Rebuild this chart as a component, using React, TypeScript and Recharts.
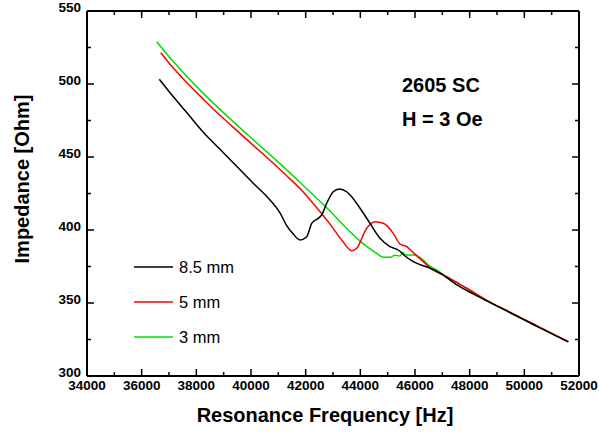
import React from 'react';
import { LineChart, Line, XAxis, YAxis } from 'recharts';

const freq85 = [36645, 37037, 37648, 38255, 38866, 39477, 40084, 40695, 41061, 41306, 41548, 41793, 42038, 42221, 42404, 42587, 42770, 43011, 43231, 43501, 43684, 43988, 44354, 44720, 45085, 45389, 45634, 45938, 46549, 46914, 47500, 48133, 48750, 49355, 49960, 50573, 51100, 51609];
const imp85 = [503.2, 494.0, 480.5, 467.0, 455.3, 443.6, 432.0, 420.6, 411.8, 403.0, 397.2, 393.2, 395.4, 404.6, 407.3, 410.3, 418.3, 426.2, 428.1, 426.2, 422.8, 414.9, 404.6, 394.3, 388.6, 386.3, 382.2, 378.3, 373.8, 370.5, 362.8, 356.2, 350.3, 344.6, 338.8, 333.0, 328.0, 323.4];

const freq5 = [36696, 37037, 37648, 38255, 38866, 39477, 40084, 40695, 41306, 41913, 42279, 42890, 43318, 43684, 43867, 44233, 44537, 44840, 45206, 45451, 45696, 45938, 46304, 46670, 47160, 47892, 48750, 49355, 49960, 50573, 51100, 51609];
const imp5 = [521.4, 513.5, 501.0, 489.6, 478.6, 468.2, 458.0, 447.8, 437.2, 426.0, 418.0, 404.0, 393.2, 385.8, 387.5, 401.2, 405.7, 404.6, 397.7, 390.4, 388.6, 384.5, 378.3, 372.6, 368.0, 360.1, 350.6, 344.9, 339.1, 333.3, 328.3, 323.6];

const freq3 = [36550, 37037, 37648, 38255, 38866, 39477, 40084, 40695, 41306, 41913, 42279, 42890, 43501, 44110, 44599, 44840, 45085, 45268, 45451, 45550, 45634, 45938, 46183, 46487, 46794, 47160, 47892, 48750, 49355, 49960, 50573, 51100, 51609];
const imp3 = [529.0, 518.0, 505.3, 493.6, 482.6, 472.0, 461.8, 451.6, 441.2, 430.5, 424.0, 413.0, 401.0, 390.5, 384.0, 381.3, 381.3, 382.7, 382.2, 384.7, 382.9, 382.9, 381.3, 376.0, 372.6, 368.0, 360.1, 350.3, 344.6, 338.8, 333.0, 328.0, 323.4];

const xTicks = [34000, 35000, 36000, 37000, 38000, 39000, 40000, 41000, 42000, 43000, 44000, 45000, 46000, 47000, 48000, 49000, 50000, 51000, 52000];
const yTicks = [300, 325, 350, 375, 400, 425, 450, 475, 500, 525, 550];

const seriesNames = ['8.5 mm', '5 mm', '3 mm'];
const seriesColors = ['#000000', '#ff0000', '#00e000'];
const annotations = ['2605 SC', 'H = 3 Oe'];
const xTitle = 'Resonance Frequency [Hz]';
const yTitle = 'Impedance [Ohm]';

const toData = (f: number[], z: number[]) => f.map((v, i) => ({ f: v, z: z[i] }));
const series = [
  { name: seriesNames[0], color: seriesColors[0], data: toData(freq85, imp85) },
  { name: seriesNames[1], color: seriesColors[1], data: toData(freq5, imp5) },
  { name: seriesNames[2], color: seriesColors[2], data: toData(freq3, imp3) },
];

const FONT = '"Liberation Sans", Arial, Helvetica, sans-serif';
const MAJOR = 7;
const MINOR = 4;

const BottomTick = (props: any) => {
  const { x, y, payload } = props;
  const major = payload.value % 2000 === 0;
  return (
    <g>
      <line x1={x} x2={x} y1={y} y2={y - (major ? MAJOR : MINOR)} stroke="#000" strokeWidth={1.5} />
      {major && (
        <text x={x} y={y + 13.5} textAnchor="middle" fontFamily={FONT} fontWeight="bold" fontSize={13.5} fill="#000">
          {payload.value}
        </text>
      )}
    </g>
  );
};

const TopTick = (props: any) => {
  const { x, y, payload } = props;
  const major = payload.value % 2000 === 0;
  return <line x1={x} x2={x} y1={y} y2={y + (major ? MAJOR : MINOR)} stroke="#000" strokeWidth={1.5} />;
};

const LeftTick = (props: any) => {
  const { x, y, payload } = props;
  const major = payload.value % 50 === 0;
  return (
    <g>
      <line x1={x} x2={x + (major ? MAJOR : MINOR)} y1={y} y2={y} stroke="#000" strokeWidth={1.5} />
      {major && (
        <text x={x - 6} y={y - 3.5} dy="0.36em" textAnchor="end" fontFamily={FONT} fontWeight="bold" fontSize={13.5} fill="#000">
          {payload.value}
        </text>
      )}
    </g>
  );
};

const RightTick = (props: any) => {
  const { x, y, payload } = props;
  const major = payload.value % 50 === 0;
  return <line x1={x} x2={x - (major ? MAJOR : MINOR)} y1={y} y2={y} stroke="#000" strokeWidth={1.5} />;
};

const axisLine = { stroke: '#000', strokeWidth: 2 };

export default function App() {
  return (
    <div style={{ position: 'absolute', left: 0, top: 0, width: 599, height: 437, background: '#fff' }}>
      <LineChart width={599} height={437} margin={{ top: 0, right: 0, bottom: 0, left: 0 }}>
        <XAxis
          xAxisId="b"
          dataKey="f"
          type="number"
          orientation="bottom"
          domain={[34000, 52000]}
          ticks={xTicks}
          interval={0}
          height={61}
          tickSize={0}
          tickMargin={0}
          tickLine={false}
          axisLine={axisLine}
          tick={<BottomTick />}
          allowDataOverflow
        />
        <XAxis
          xAxisId="t"
          dataKey="f"
          type="number"
          orientation="top"
          domain={[34000, 52000]}
          ticks={xTicks}
          interval={0}
          height={11}
          tickSize={0}
          tickMargin={0}
          tickLine={false}
          axisLine={axisLine}
          tick={<TopTick />}
          allowDataOverflow
        />
        <YAxis
          yAxisId="l"
          type="number"
          orientation="left"
          domain={[300, 550]}
          ticks={yTicks}
          interval={0}
          width={87}
          tickSize={0}
          tickMargin={0}
          tickLine={false}
          axisLine={axisLine}
          tick={<LeftTick />}
          allowDataOverflow
        />
        <YAxis
          yAxisId="r"
          type="number"
          orientation="right"
          domain={[300, 550]}
          ticks={yTicks}
          interval={0}
          width={20}
          tickSize={0}
          tickMargin={0}
          tickLine={false}
          axisLine={axisLine}
          tick={<RightTick />}
          allowDataOverflow
        />
        {[2, 1, 0].map((i) => (
          <Line
            key={series[i].name}
            xAxisId="b"
            yAxisId="l"
            data={series[i].data}
            dataKey="z"
            name={series[i].name}
            type="monotone"
            stroke={series[i].color}
            strokeWidth={1.5}
            dot={false}
            activeDot={false}
            isAnimationActive={false}
          />
        ))}
      </LineChart>
      <svg
        width={599}
        height={437}
        style={{ position: 'absolute', left: 0, top: 0, pointerEvents: 'none' }}
      >
        <text x={325} y={422} textAnchor="middle" fontFamily={FONT} fontWeight="bold" fontSize={20} fill="#000">
          {xTitle}
        </text>
        <text
          x={29}
          y={179}
          textAnchor="middle"
          transform="rotate(-90 29 179)"
          fontFamily={FONT}
          fontWeight="bold"
          fontSize={20}
          fill="#000"
        >
          {yTitle}
        </text>
        {annotations.map((t, i) => (
          <text key={t} x={402} y={91.5 + i * 34} fontFamily={FONT} fontWeight="bold" fontSize={20} fill="#000">
            {t}
          </text>
        ))}
        {series.map((s, i) => (
          <g key={s.name}>
            <line x1={134} x2={173} y1={267 + i * 35} y2={267 + i * 35} stroke={s.color} strokeWidth={1.5} />
            <text x={179} y={273 + i * 35} fontFamily={FONT} fontSize={16.5} fill="#000">
              {s.name}
            </text>
          </g>
        ))}
      </svg>
    </div>
  );
}
